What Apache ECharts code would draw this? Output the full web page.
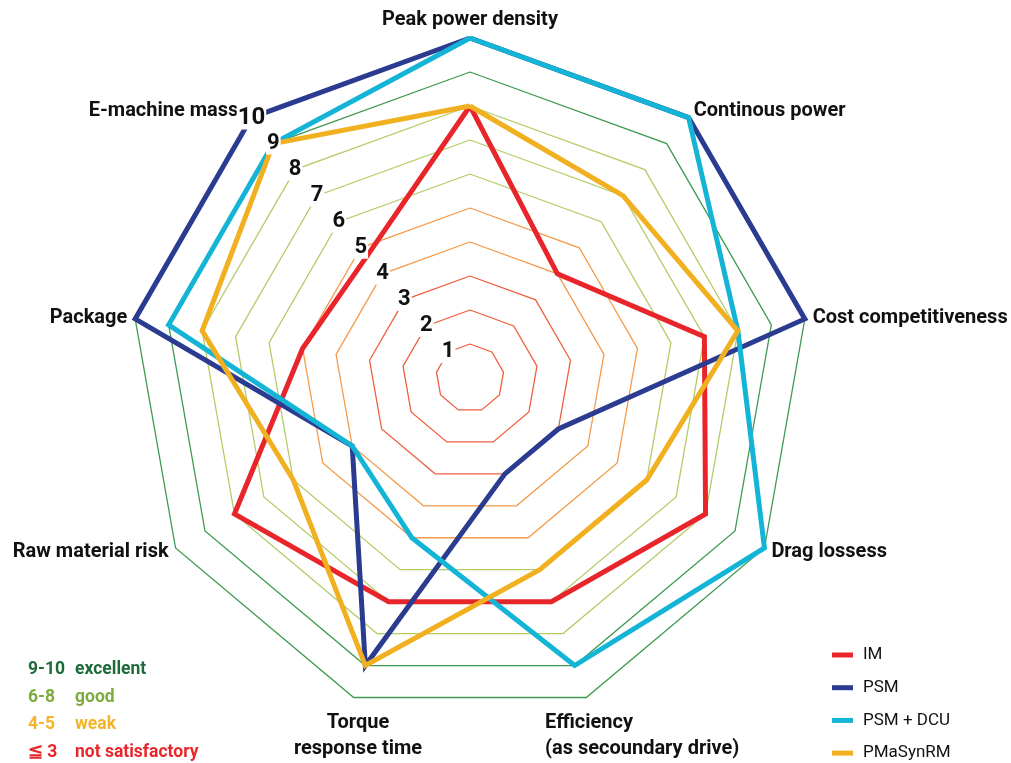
<!DOCTYPE html>
<html>
<head>
<meta charset="utf-8">
<script src="https://cdn.jsdelivr.net/npm/echarts@6/dist/echarts.min.js"></script>
<style>
html,body{margin:0;padding:0;background:#fff;}
#chart{width:1011px;height:763px;}
</style>
</head>
<body>
<div id="chart"></div>
<script>
// ---- data (clockwise from top, as in the picture) ----
const categories = ['Peak power density', 'Continous power', 'Cost competitiveness', 'Drag lossess',
  'Efficiency\n(as secoundary drive)', 'Torque\nresponse time', 'Raw material risk', 'Package', 'E-machine mass'];
const seriesNames = ['IM', 'PSM', 'PSM + DCU', 'PMaSynRM'];
const imValues      = [8, 4, 7, 8, 7, 7, 8, 5, 4.7];
const psmValues     = [10, 10, 10, 3, 3, 9, 4, 10, 10];
const psmDcuValues  = [10, 10, 8, 10, 9, 5, 4, 9, 9];
const pmasynValues  = [8, 7, 8, 6, 6, 9, 6, 8, 9];
const tickLabels = ['1', '2', '3', '4', '5', '6', '7', '8', '9', '10'];
const bandRanges = ['9-10', '6-8', '4-5', '≦ 3'];
const bandNames  = ['excellent', 'good', 'weak', 'not satisfactory'];

// ---- styles ----
const FONT = "Roboto, 'Liberation Sans', sans-serif";
const seriesColors = ['#e8252b', '#2b3b90', '#14b4d6', '#f0b020'];
const bandColors = ['#1d6b3a', '#7dab3c', '#f2b42a', '#e8262b'];
const ringRed = '#ef5f3f', ringOrange = '#f49a4a', ringLight = '#b3cc66', ringDark = '#3f9a4f';
const ringColors = ['#ffffff', ringRed, ringRed, ringRed, ringOrange, ringOrange,
  ringLight, ringLight, ringLight, ringDark, ringDark];
const CX = 470, CY = 378, R = 340;
const NAME_SIZE = 20;

// ECharts radar runs counter-clockwise; reorder so it reads clockwise
const reorder = a => [a[0]].concat(a.slice(1).reverse());
const allValues = [imValues, psmValues, psmDcuValues, pmasynValues];
const customNames = [categories[4], categories[5]];

const chart = echarts.init(document.getElementById('chart'), null, {renderer: 'canvas'});
chart.setOption({
  animation: false,
  radar: {
    center: [CX, CY],
    radius: R,
    startAngle: 90,
    splitNumber: 10,
    shape: 'polygon',
    indicator: reorder(categories).map(n => ({name: n, min: 0, max: 10})),
    axisNameGap: 8,
    axisName: {
      color: '#111', fontSize: NAME_SIZE, fontWeight: 'bold', fontFamily: FONT,
      formatter: (n) => customNames.indexOf(n) >= 0 ? '' : (n === 'E-machine mass' ? '{e|' + n + '}' : n),
      rich: {e: {padding: [0, 8, 0, 0], color: '#111', fontSize: NAME_SIZE, fontWeight: 'bold', fontFamily: FONT}}
    },
    axisLine: {show: false},
    axisTick: {show: false},
    axisLabel: {show: false},
    splitArea: {show: false},
    splitLine: {lineStyle: {color: ringColors, width: 1.3}}
  },
  polar: {center: [CX, CY], radius: R},
  angleAxis: {type: 'value', min: 0, max: 360, startAngle: 130, show: false},
  radiusAxis: {
    type: 'value', min: 0, max: 10, interval: 1, z: 10,
    axisLine: {show: false}, axisTick: {show: false}, splitLine: {show: false},
    axisLabel: {
      show: true, margin: 0, align: 'center', verticalAlign: 'middle', showMinLabel: false,
      formatter: v => v === 0 ? '' : (v === 10 ? '{big|' + tickLabels[v - 1] + '}' : tickLabels[v - 1]),
      color: '#111', fontSize: 22, fontWeight: 'bold', fontFamily: FONT,
      backgroundColor: '#fff', padding: [0, 1],
      rich: {big: {fontSize: 24, fontWeight: 'bold', fontFamily: FONT, color: '#111'}}
    }
  },
  legend: {
    data: seriesNames,
    orient: 'vertical', left: 832, top: 646, padding: 0,
    itemWidth: 21, itemHeight: 5, itemGap: 14.7, icon: 'rect',
    textStyle: {fontSize: 17, fontFamily: FONT, color: '#111', lineHeight: 18, padding: [0, 0, 0, 5]}
  },
  series: [{
    type: 'radar',
    symbol: 'none',
    z: 3,
    data: seriesNames.map((n, i) => ({
      name: n,
      value: reorder(allValues[i]),
      lineStyle: {color: seriesColors[i], width: 5, join: 'miter', miterLimit: 4},
      itemStyle: {color: seriesColors[i]}
    }))
  }],
  graphic: [
    {type: 'text', x: 358, y: 736, z: 20,
      style: {text: categories[5], align: 'center', verticalAlign: 'middle', lineHeight: 26,
        fontSize: NAME_SIZE, fontWeight: 'bold', fontFamily: FONT, fill: '#111'}},
    {type: 'text', x: 545, y: 736, z: 20,
      style: {text: categories[4], align: 'left', verticalAlign: 'middle', lineHeight: 26,
        fontSize: NAME_SIZE, fontWeight: 'bold', fontFamily: FONT, fill: '#111'}},
    {type: 'text', x: 28, y: 656, z: 20,
      style: {
        text: bandRanges.map((r, i) => '{r' + i + '|' + r + '}{n' + i + '|' + bandNames[i] + '}').join('\n'),
        lineHeight: 27.5,
        rich: Object.assign({}, ...bandRanges.map((r, i) => ({
          ['r' + i]: {width: 47, fill: bandColors[i], fontSize: 17.5, fontWeight: 'bold', fontFamily: FONT, lineHeight: 27.5},
          ['n' + i]: {fill: bandColors[i], fontSize: 17.5, fontWeight: 'bold', fontFamily: FONT, lineHeight: 27.5}
        })))
      }}
  ]
});
</script>
</body>
</html>
